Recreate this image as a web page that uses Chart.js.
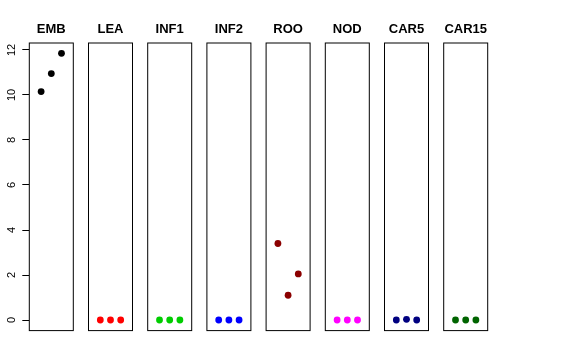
<!DOCTYPE html>
<html>
<head>
<meta charset="utf-8">
<script src="https://cdn.jsdelivr.net/npm/chart.js@4/dist/chart.umd.min.js"></script>
<style>
  body { margin: 0; background: #fff; }
  #wrap { position: relative; width: 576px; height: 360px; }
  #wrap canvas { position: absolute; left: 0; top: 0; }
</style>
</head>
<body>
<div id="wrap"></div>
<script>
// panel names and point colours
const panels = ["EMB", "LEA", "INF1", "INF2", "ROO", "NOD", "CAR5", "CAR15"];
const colors = ["#000000", "#FF0000", "#00CD00", "#0000FF", "#8B0000", "#FF00FF", "#000080", "#006400"];

// x position of the 3 points in each panel
const xPositions = [1, 2, 3];

// values
const embValues = [10.15, 10.95, 11.85];
const leaValues = [0, 0, 0];
const inf1Values = [0, 0, 0];
const inf2Values = [0, 0, 0];
const rooValues = [3.4, 1.1, 2.05];
const nodValues = [0, 0, 0];
const car5Values = [0, 0.03, 0];
const car15Values = [0, 0, 0];

const allValues = [embValues, leaValues, inf1Values, inf2Values, rooValues, nodValues, car5Values, car15Values];

const yTicks = [0, 2, 4, 6, 8, 10, 12];
const yMin = -0.47, yMax = 12.31;
const xMin = -0.16, xMax = 4.16;

// frame around each panel (unrounded, so it blurs like the original)
const boxPlugin = {
    id: "box",
    afterDraw(chart) {
        const a = chart.chartArea;
        const ctx = chart.ctx;
        ctx.save();
        ctx.strokeStyle = "#000";
        ctx.lineWidth = 1;
        ctx.strokeRect(a.left, a.top, a.right - a.left, a.bottom - a.top);
        ctx.restore();
    }
};

// rotated y tick labels (chart.js doesn't rotate labels on vertical axes)
const yLabelPlugin = {
    id: "ylabels",
    afterDraw(chart) {
        if (!chart.options.plugins.ylabels.show) return;
        const scale = chart.scales.y;
        const ctx = chart.ctx;
        ctx.save();
        ctx.fillStyle = "#000";
        ctx.font = "11px 'Liberation Sans', Arial, sans-serif";
        ctx.textAlign = "center";
        ctx.textBaseline = "middle";
        yTicks.forEach(function (v) {
            const y = scale.getPixelForValue(v);
            ctx.save();
            ctx.translate(12, y);
            ctx.rotate(-Math.PI / 2);
            ctx.fillText(String(v), 0, 0);
            ctx.restore();
        });
        ctx.restore();
    }
};

const wrap = document.getElementById("wrap");

for (let i = 0; i < panels.length; i++) {
    const left = 29.3 + 59.2 * i;
    const right = left + 44;
    const canvas = document.createElement("canvas");
    canvas.width = 576;
    canvas.height = 360;
    wrap.appendChild(canvas);

    const points = xPositions.map(function (x, k) {
        return { x: x, y: allValues[i][k] };
    });

    new Chart(canvas, {
        type: "scatter",
        data: {
            datasets: [{
                data: points,
                backgroundColor: colors[i],
                borderColor: colors[i],
                pointRadius: 3.4,
                pointBorderWidth: 0
            }]
        },
        options: {
            responsive: false,
            animation: false,
            layout: {
                padding: { left: i === 0 ? 0.3 : left, right: 576 - right, top: 22, bottom: 360 - 330.6 }
            },
            scales: {
                x: { type: "linear", display: false, min: xMin, max: xMax },
                y: {
                    type: "linear",
                    display: i === 0,
                    min: yMin,
                    max: yMax,
                    afterBuildTicks: function (scale) {
                        scale.ticks = yTicks.map(function (v) { return { value: v }; });
                    },
                    afterFit: function (scale) {
                        if (i === 0) scale.width = 29;
                    },
                    ticks: { display: false },
                    border: { display: false },
                    grid: { drawOnChartArea: false, drawTicks: true, tickLength: 7, color: "#000" }
                }
            },
            plugins: {
                legend: { display: false },
                tooltip: { enabled: false },
                title: {
                    display: true,
                    text: panels[i],
                    fullSize: false,
                    color: "#000",
                    font: { size: 13, weight: "bold", family: "'Liberation Sans', Arial, sans-serif" },
                    padding: { top: 0, bottom: 5.4 }
                },
                ylabels: { show: i === 0 }
            }
        },
        plugins: [boxPlugin, yLabelPlugin]
    });
}
</script>
</body>
</html>
